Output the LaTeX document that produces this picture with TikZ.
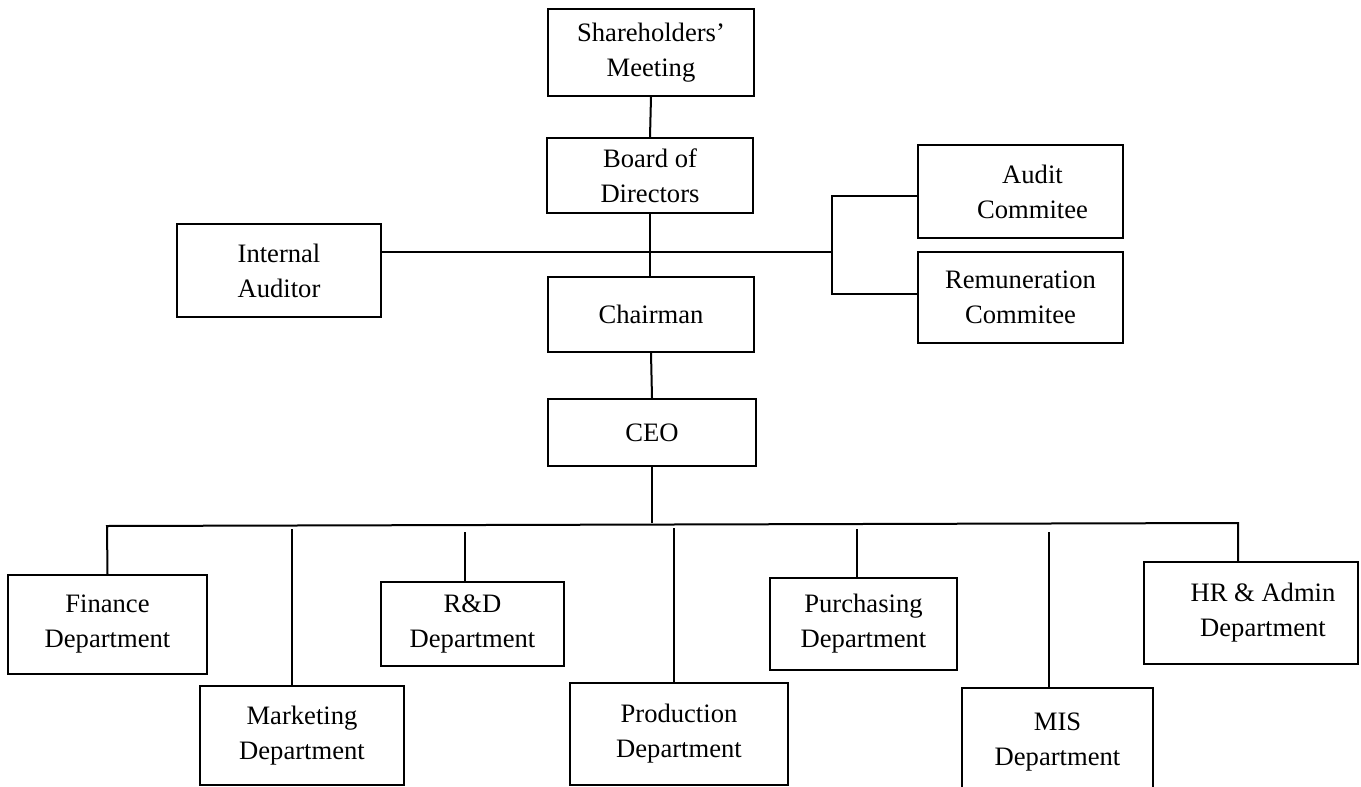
\documentclass[tikz,border=0pt]{standalone}
\usepackage{fontspec}
\setmainfont{Liberation Serif}
\begin{document}
\begin{tikzpicture}[x=0.5pt,y=-0.5pt,line width=1pt,
  box/.style={draw,align=center,inner sep=0pt,font=\fontsize{13.3}{17.5}\selectfont}]
  \useasboundingbox (0,0) rectangle (1361,787);
  \node[box,minimum width=103pt,minimum height=43.5pt] (share) at (651,52.5) {Shareholders’\\Meeting};
  \node[box,minimum width=103pt,minimum height=37.5pt] (board) at (650,175.5) {Board of\\Directors};
  \node[box,minimum width=103pt,minimum height=37.5pt] (chair) at (651,314.5) {Chairman};
  \node[box,minimum width=104pt,minimum height=33.5pt] (ceo) at (652,432.5) {CEO};
  \node[box,minimum width=102pt,minimum height=46.5pt] (intaud) at (279,270.5) {Internal\\Auditor};
  \node[box,minimum width=102.5pt,minimum height=46.5pt] (audit) at (1020.5,191.5) {\hspace*{12pt}Audit\\\hspace*{12pt}Commitee};
  \node[box,minimum width=102.5pt,minimum height=45.5pt] (remun) at (1020.5,297.5) {Remuneration\\Commitee};
  \node[box,minimum width=99.5pt,minimum height=49.5pt] (fin) at (107.5,624.5) {Finance\\Department};
  \node[box,minimum width=102pt,minimum height=49.5pt] (mkt) at (302,735.5) {Marketing\\Department};
  \node[box,minimum width=91.5pt,minimum height=42pt] (rnd) at (472.5,624) {R\&D\\Department};
  \node[box,minimum width=109pt,minimum height=51pt] (prod) at (679,734) {Production\\Department};
  \node[box,minimum width=93.5pt,minimum height=46pt] (purch) at (863.5,624) {Purchasing\\Department};
  \node[box,minimum width=95.5pt,minimum height=54.5pt] (mis) at (1057.5,742.5) {MIS\\Department};
  \node[box,minimum width=107pt,minimum height=51pt] (hr) at (1251,613) {\hspace*{12pt}HR \& Admin\\\hspace*{12pt}Department};

  \coordinate (rail) at (832,252);
  \coordinate (busL) at (107,526);
  \coordinate (busR) at (1238,523);
  \coordinate (tMkt) at (292,529);
  \coordinate (tRnd) at (465,532);
  \coordinate (tProd) at (674,528);
  \coordinate (tPurch) at (857,529);
  \coordinate (tMis) at (1049,532);

  \draw (share.south) -- (board.north);
  \draw (board.south) -- (board.south |- chair.north);
  \draw (rail -| intaud.east) -- (rail);
  \draw ([yshift=-2.25pt]audit.west) -| (rail) |- ([yshift=1.75pt]remun.west);
  \draw (chair.south) -- (ceo.north);
  \draw (ceo.south) -- (ceo.south |- busR);
  \draw (fin.north) -- (busL) -- (busR) -- (busR |- hr.north);
  \draw (tMkt) -- (tMkt |- mkt.north);
  \draw (tRnd) -- (tRnd |- rnd.north);
  \draw (tProd) -- (tProd |- prod.north);
  \draw (tPurch) -- (tPurch |- purch.north);
  \draw (tMis) -- (tMis |- mis.north);
\end{tikzpicture}
\end{document}
